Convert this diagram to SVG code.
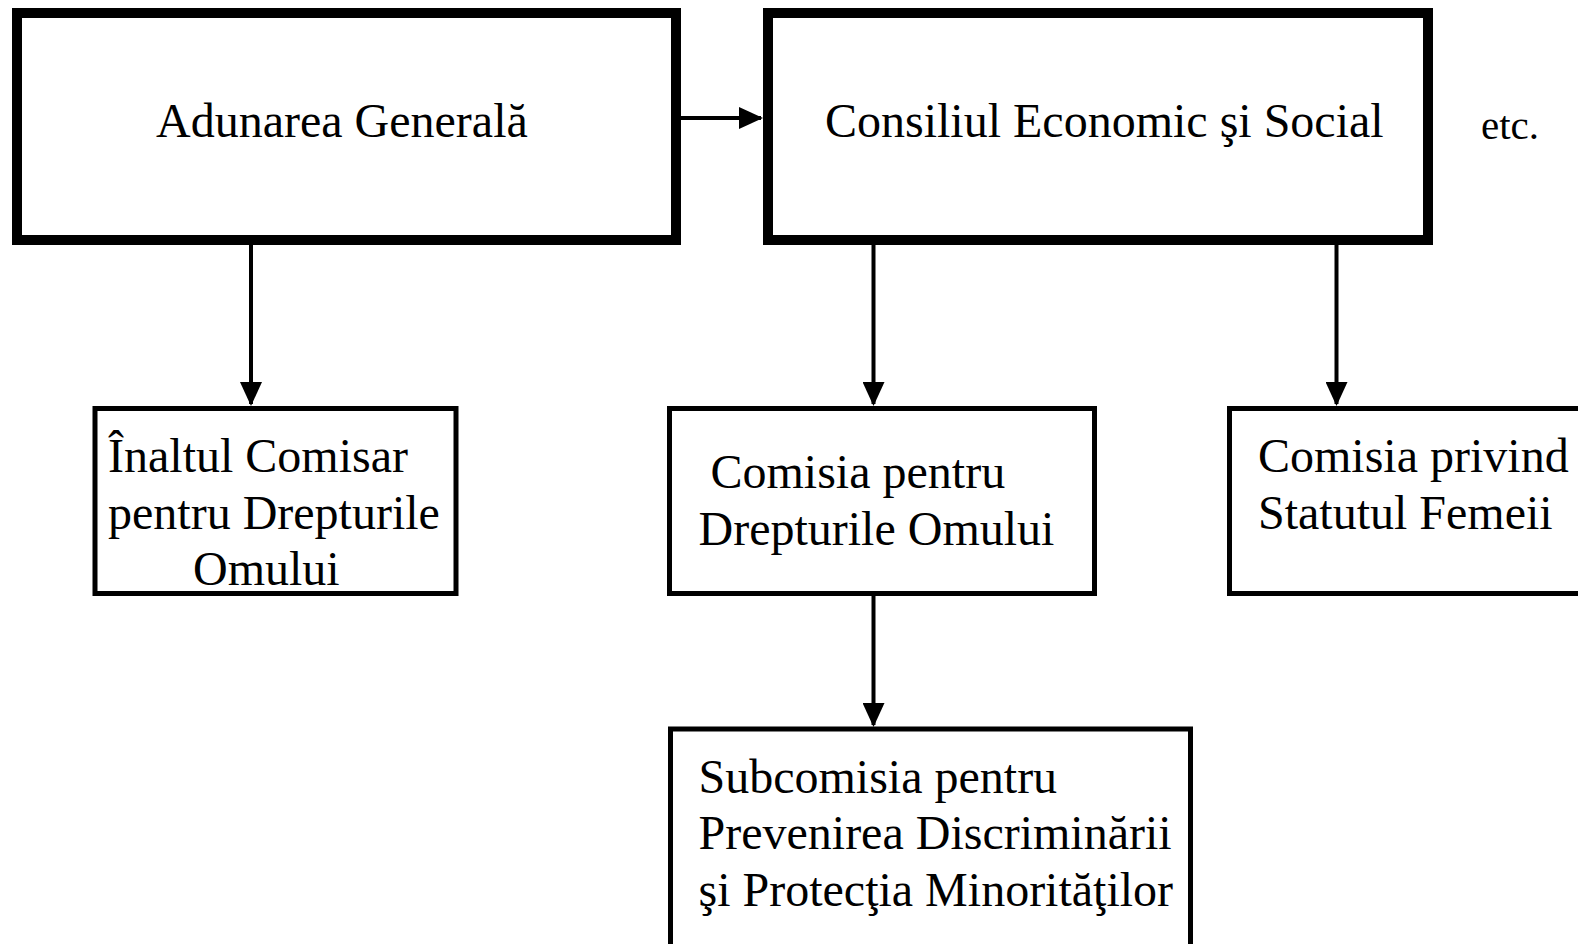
<svg xmlns="http://www.w3.org/2000/svg" width="1578" height="944" viewBox="0 0 1578 944">
<style>
  .big { fill: #fff; stroke: #000; stroke-width: 10; }
  .small { fill: #fff; stroke: #000; stroke-width: 5; }
  .t { font-family: "Liberation Serif", "Times New Roman", serif; font-size: 48px; fill: #000; }
  .etc { font-family: "Liberation Serif", "Times New Roman", serif; font-size: 41px; fill: #000; }
  .conn { stroke: #000; stroke-width: 4; fill: none; marker-end: url(#arr); }
</style>
<defs>
  <marker id="arr" viewBox="0 0 24 22" markerUnits="userSpaceOnUse" markerWidth="24" markerHeight="22" refX="22" refY="11" orient="auto">
    <path d="M0,0 L24,11 L0,22 Z" fill="#000"/>
  </marker>
</defs>
<rect width="1578" height="944" fill="#fff"/>
<g id="connectors">
  <line class="conn" x1="681" y1="118" x2="761" y2="118"/>
  <line class="conn" x1="251" y1="245" x2="251" y2="404"/>
  <line class="conn" x1="873.5" y1="245" x2="873.5" y2="404"/>
  <line class="conn" x1="1336.5" y1="245" x2="1336.5" y2="404"/>
  <line class="conn" x1="873.5" y1="596" x2="873.5" y2="725"/>
</g>
<g id="adunarea">
  <rect class="big" x="17" y="13" width="659" height="227"/>
  <text class="t" x="156" y="137">Adunarea Generală</text>
</g>
<g id="consiliul">
  <rect class="big" x="768" y="13" width="660" height="227"/>
  <text class="t" x="825" y="137">Consiliul Economic şi Social</text>
</g>
<g id="etc">
  <text class="etc" x="1481" y="139">etc.</text>
</g>
<g id="inaltul">
  <rect class="small" x="95" y="408.5" width="361" height="185"/>
  <text class="t" x="108" y="472">Înaltul Comisar</text>
  <text class="t" x="108" y="529">pentru Drepturile</text>
  <text class="t" x="193" y="585">Omului</text>
</g>
<g id="comisia-drepturi">
  <rect class="small" x="669.5" y="408.5" width="425" height="185"/>
  <text class="t" x="710.5" y="488">Comisia pentru</text>
  <text class="t" x="698.5" y="545">Drepturile Omului</text>
</g>
<g id="comisia-femei">
  <rect class="small" x="1229.5" y="408.5" width="400" height="185"/>
  <text class="t" x="1258" y="472">Comisia privind</text>
  <text class="t" x="1258" y="529">Statutul Femeii</text>
</g>
<g id="subcomisia">
  <rect class="small" x="670.5" y="729" width="520" height="260"/>
  <text class="t" x="698.5" y="793">Subcomisia pentru</text>
  <text class="t" x="698.5" y="849">Prevenirea Discriminării</text>
  <text class="t" x="698.5" y="906">şi Protecţia Minorităţilor</text>
</g>
</svg>
